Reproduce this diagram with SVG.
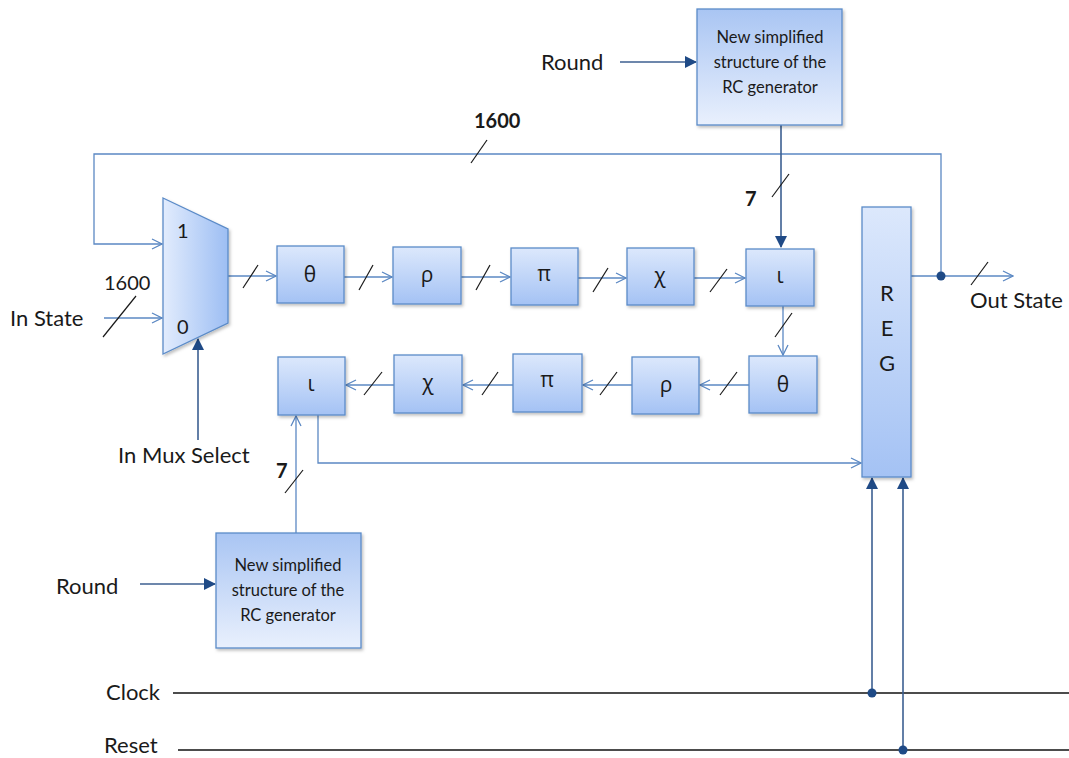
<svg xmlns="http://www.w3.org/2000/svg" width="1069" height="758" viewBox="0 0 1069 758">
  <defs>
    <linearGradient id="gBox" x1="0" y1="0" x2="0" y2="1">
      <stop offset="0" stop-color="#dce8fc"/>
      <stop offset="1" stop-color="#a4c2f4"/>
    </linearGradient>
    <linearGradient id="gRc" x1="0" y1="0" x2="0" y2="1">
      <stop offset="0" stop-color="#a9c5f3"/>
      <stop offset="1" stop-color="#e9f0fd"/>
    </linearGradient>
    <linearGradient id="gMux" x1="0" y1="0" x2="1" y2="0">
      <stop offset="0" stop-color="#e2ecfd"/>
      <stop offset="1" stop-color="#9dbef3"/>
    </linearGradient>
    <filter id="shadow" x="-20%" y="-20%" width="140%" height="140%">
      <feDropShadow dx="1.5" dy="2" stdDeviation="1.5" flood-color="#000" flood-opacity="0.25"/>
    </filter>
    <marker id="open" viewBox="0 0 12 12" refX="11" refY="6" markerWidth="12" markerHeight="12" markerUnits="userSpaceOnUse" orient="auto">
      <path d="M1,1 L11,6 L1,11" fill="none" stroke="#5b88c3" stroke-width="1.3"/>
    </marker>
    <marker id="solid" viewBox="0 0 12 12" refX="11" refY="6" markerWidth="12" markerHeight="12" markerUnits="userSpaceOnUse" orient="auto">
      <path d="M0,0 L12,6 L0,12 Z" fill="#1f4a86"/>
    </marker>
  </defs>
  <style>
    .box { fill: url(#gBox); stroke: #5b8bc8; stroke-width: 1.3; filter: url(#shadow); }
    .rc { fill: url(#gRc); stroke: #5b8bc8; stroke-width: 1.3; filter: url(#shadow); }
    .wire { fill: none; stroke: #5b88c3; stroke-width: 1.3; }
    .ctrl { fill: none; stroke: #3c5f91; stroke-width: 1.6; }
    .bus { fill: none; stroke: #1a1a1a; stroke-width: 1.2; }
    .rail { fill: none; stroke: #111; stroke-width: 1.3; }
    .dot { fill: #1f4a86; }
    text { font-family: Lato, "Liberation Sans", sans-serif; fill: #1a1a1a; }
    .lbl { font-size: 22px; }
    .num { font-size: 20px; }
    .sym { font-family: "Open Sans", "DejaVu Sans", sans-serif; font-size: 21px; text-anchor: middle; }
    .reg { font-size: 22px; text-anchor: middle; }
    .rct { font-size: 16.5px; text-anchor: middle; }
  </style>

  <!-- wires -->
  <g id="connectors">
    <!-- feedback from output back to mux input 1 -->
    <path class="wire" d="M941,276 V154 H94 V244 H162" marker-end="url(#open)"/>
    <line class="bus" x1="471" y1="163" x2="487" y2="140"/>
    <!-- In State to mux input 0 -->
    <line class="wire" x1="104" y1="318" x2="162" y2="318" marker-end="url(#open)"/>
    <line class="bus" x1="103" y1="337" x2="136" y2="296"/>
    <!-- mux select -->
    <line class="ctrl" x1="198" y1="440" x2="198" y2="339" marker-end="url(#solid)"/>
    <!-- upper round chain -->
    <line class="wire" x1="228" y1="276" x2="276" y2="276" marker-end="url(#open)"/>
    <line class="bus" x1="243" y1="288" x2="258" y2="265"/>
    <line class="wire" x1="344" y1="277" x2="392" y2="277" marker-end="url(#open)"/>
    <line class="bus" x1="359" y1="290" x2="373" y2="265"/>
    <line class="wire" x1="461" y1="277" x2="510" y2="277" marker-end="url(#open)"/>
    <line class="bus" x1="476" y1="290" x2="490" y2="265"/>
    <line class="wire" x1="578" y1="278" x2="626" y2="278" marker-end="url(#open)"/>
    <line class="bus" x1="593" y1="292" x2="608" y2="268"/>
    <line class="wire" x1="694" y1="278" x2="745" y2="278" marker-end="url(#open)"/>
    <line class="bus" x1="710" y1="292" x2="727" y2="269"/>
    <!-- upper iota to lower theta -->
    <line class="wire" x1="783" y1="306" x2="783" y2="355" marker-end="url(#open)"/>
    <line class="bus" x1="775" y1="337" x2="792" y2="313"/>
    <!-- lower round chain (right to left) -->
    <line class="wire" x1="749" y1="385" x2="700" y2="385" marker-end="url(#open)"/>
    <line class="bus" x1="720" y1="395" x2="737" y2="372"/>
    <line class="wire" x1="632" y1="385" x2="583" y2="385" marker-end="url(#open)"/>
    <line class="bus" x1="600" y1="395" x2="617" y2="372"/>
    <line class="wire" x1="513" y1="385" x2="463" y2="385" marker-end="url(#open)"/>
    <line class="bus" x1="482" y1="395" x2="498" y2="372"/>
    <line class="wire" x1="394" y1="385" x2="346" y2="385" marker-end="url(#open)"/>
    <line class="bus" x1="364" y1="395" x2="382" y2="372"/>
    <!-- lower iota to register -->
    <path class="wire" d="M318,415 V463 H861" marker-end="url(#open)"/>
    <!-- round constants -->
    <line class="ctrl" x1="781" y1="125" x2="781" y2="247" marker-end="url(#solid)"/>
    <line class="bus" x1="772" y1="197" x2="789" y2="174"/>
    <line class="wire" x1="296" y1="533" x2="296" y2="416" marker-end="url(#open)"/>
    <line class="bus" x1="285" y1="493" x2="303" y2="470"/>
    <!-- round inputs -->
    <line class="ctrl" x1="620" y1="62" x2="696" y2="62" marker-end="url(#solid)"/>
    <line class="ctrl" x1="140" y1="584" x2="215" y2="584" marker-end="url(#solid)"/>
    <!-- register output -->
    <line class="wire" x1="911" y1="276" x2="1013" y2="276" marker-end="url(#open)"/>
    <line class="bus" x1="971" y1="285" x2="988" y2="262"/>
    <circle class="dot" cx="941" cy="276" r="4.5"/>
    <!-- clock and reset -->
    <line class="rail" x1="173" y1="693" x2="1069" y2="693"/>
    <line class="rail" x1="178" y1="750" x2="1069" y2="750" stroke="#555"/>
    <line class="ctrl" x1="872" y1="693" x2="872" y2="478" marker-end="url(#solid)"/>
    <line class="ctrl" x1="903" y1="750" x2="903" y2="478" marker-end="url(#solid)"/>
    <circle class="dot" cx="872" cy="693" r="4.5"/>
    <circle class="dot" cx="903" cy="750" r="4.5"/>
  </g>

  <!-- labels -->
  <g id="labels">
    <text class="lbl" x="541" y="70">Round</text>
    <text class="lbl" x="56" y="594">Round</text>
    <text class="num" x="474" y="128" font-weight="bold">1600</text>
    <text class="num" x="104" y="290">1600</text>
    <text class="lbl" x="10" y="326">In State</text>
    <text class="lbl" x="118" y="463">In Mux Select</text>
    <text class="lbl" x="970" y="308">Out State</text>
    <text class="num" x="745" y="206" font-weight="bold">7</text>
    <text class="num" x="276" y="478" font-weight="bold">7</text>
    <text class="lbl" x="106" y="700" font-size="21">Clock</text>
    <text class="lbl" x="104" y="753" font-size="20">Reset</text>
  </g>

  <g id="rc-top">
    <rect class="rc" x="697" y="9" width="145" height="116"/>
    <text class="rct" x="770" y="43">New simplified</text>
    <text class="rct" x="770" y="68">structure of the</text>
    <text class="rct" x="770" y="93">RC generator</text>
  </g>

  <g id="rc-bottom">
    <rect class="rc" x="216" y="533" width="145" height="115"/>
    <text class="rct" x="288" y="571">New simplified</text>
    <text class="rct" x="288" y="596">structure of the</text>
    <text class="rct" x="288" y="621">RC generator</text>
  </g>

  <g id="mux">
    <path d="M163,198 L228,229 L228,323 L163,354 Z" fill="url(#gMux)" stroke="#5b8bc8" stroke-width="1.3" filter="url(#shadow)"/>
    <text class="num" x="177" y="238">1</text>
    <text class="num" x="177" y="334">0</text>
  </g>

  <g id="theta1"><rect class="box" x="277" y="246" width="67" height="57"/><text class="sym" x="310" y="282">θ</text></g>
  <g id="rho1"><rect class="box" x="393" y="247" width="68" height="57"/><text class="sym" x="427" y="282">ρ</text></g>
  <g id="pi1"><rect class="box" x="511" y="248" width="67" height="57"/><text class="sym" x="544" y="281">π</text></g>
  <g id="chi1"><rect class="box" x="627" y="248" width="67" height="57"/><text class="sym" x="660" y="283">χ</text></g>
  <g id="iota1"><rect class="box" x="746" y="249" width="68" height="57"/><text class="sym" x="780" y="283">ι</text></g>

  <g id="theta2"><rect class="box" x="749" y="356" width="68" height="57"/><text class="sym" x="783" y="392">θ</text></g>
  <g id="rho2"><rect class="box" x="632" y="357" width="67" height="57"/><text class="sym" x="666" y="392">ρ</text></g>
  <g id="pi2"><rect class="box" x="513" y="354" width="69" height="58"/><text class="sym" x="547" y="387">π</text></g>
  <g id="chi2"><rect class="box" x="394" y="355" width="68" height="58"/><text class="sym" x="428" y="390">χ</text></g>
  <g id="iota2"><rect class="box" x="278" y="357" width="67" height="58"/><text class="sym" x="311" y="391">ι</text></g>

  <g id="reg">
    <rect class="box" x="862" y="207" width="49" height="270"/>
    <text class="reg" x="887" y="301">R</text>
    <text class="reg" x="887" y="336">E</text>
    <text class="reg" x="887" y="371">G</text>
  </g>
</svg>
